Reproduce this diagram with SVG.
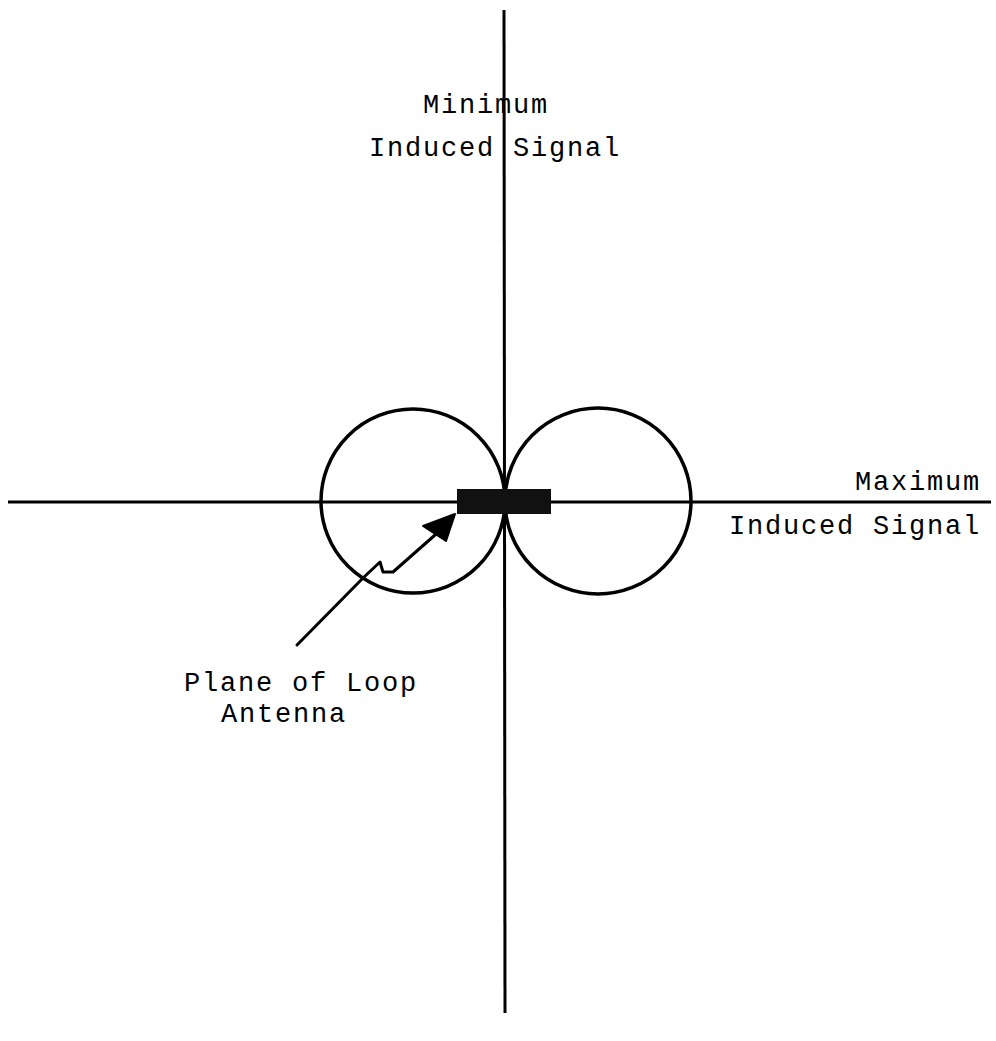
<svg xmlns="http://www.w3.org/2000/svg" width="996" height="1041" viewBox="0 0 996 1041">
<style>
.ax{stroke:#000;stroke-width:3;fill:none}
.lobe{stroke:#000;stroke-width:3.5;fill:none}
.t{font-family:"Liberation Mono","DejaVu Sans Mono",monospace;font-size:27px;letter-spacing:1.8px;fill:#000}
</style>
<rect width="996" height="1041" fill="#fff"/>
<g id="connectors">
<line class="ax" x1="504" y1="10" x2="505" y2="1013"/>
<line class="ax" x1="8" y1="502" x2="991" y2="502"/>
<path class="ax" d="M297,645 L363,578 L380,562 L383,572 L393,572 L435,535" stroke-linecap="round" stroke-linejoin="round"/>
<polygon points="455,514 423,526 446,541" fill="#000" stroke="#000" stroke-width="2" stroke-linejoin="round"/>
</g>
<g id="lobe-left"><circle class="lobe" cx="413" cy="501" r="92"/></g>
<g id="lobe-right"><circle class="lobe" cx="598" cy="501" r="93"/></g>
<g id="antenna"><rect x="457" y="489" width="94" height="25" fill="#111"/></g>
<g id="label-min">
<text class="t" x="423" y="113">Minimum</text>
<text class="t" x="369" y="156">Induced Signal</text>
</g>
<g id="label-max">
<text class="t" x="981" y="490" text-anchor="end">Maximum</text>
<text class="t" x="981" y="534" text-anchor="end">Induced Signal</text>
</g>
<g id="label-plane">
<text class="t" x="184" y="691">Plane of Loop</text>
<text class="t" x="221" y="722">Antenna</text>
</g>
</svg>
